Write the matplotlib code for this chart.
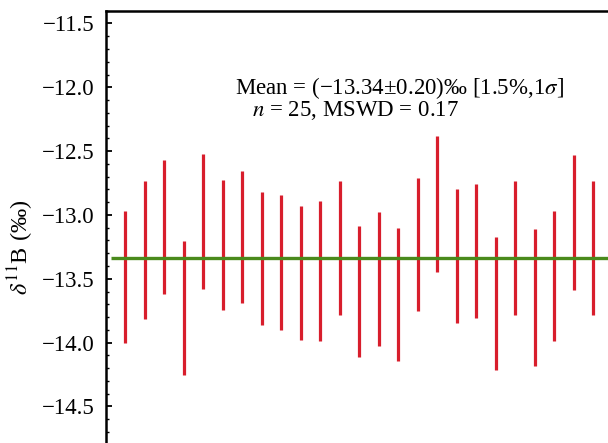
import numpy as np
import matplotlib
matplotlib.use('Agg')
import matplotlib.pyplot as plt
from matplotlib.ticker import MultipleLocator

# delta 11B measurements (per mil) and their error half-widths
values = [-13.486, -13.276, -13.094, -13.731, -13.051, -13.236, -13.175,
          -13.341, -13.373, -13.452, -13.438, -13.259, -13.601, -13.502,
          -13.623, -13.234, -12.914, -13.324, -13.281, -13.695, -13.259,
          -13.648, -13.477, -13.059, -13.258]
errors = [0.520, 0.542, 0.525, 0.525, 0.529, 0.510, 0.518, 0.521, 0.527,
          0.525, 0.550, 0.523, 0.512, 0.523, 0.524, 0.522, 0.531, 0.525,
          0.524, 0.520, 0.523, 0.536, 0.511, 0.529, 0.524]
mean_value = -13.34
yticks = [-14.5, -14.0, -13.5, -13.0, -12.5, -12.0, -11.5]

plt.rcParams['font.family'] = ['Liberation Serif', 'DejaVu Serif']
plt.rcParams['mathtext.fontset'] = 'stix'

fig = plt.figure(figsize=(6.08, 4.43), dpi=100)
W, H = 608, 443
# axes run past the right and bottom edge of the picture
ax = fig.add_axes([105.5 / W, -1.7 / H, 507 / W, 434 / H])

x = np.arange(1, len(values) + 1)
v = np.array(values)
e = np.array(errors)
ax.vlines(x, v - e, v + e, color='#d81e2c', lw=2.3, zorder=2)
ax.hlines(mean_value, 0.27, 26, color='#4a8a1c', lw=2.4, zorder=3)

ax.set_xlim(0, 26)
ax.set_ylim(-14.8, -11.4)
ax.set_yticks(yticks)
ax.set_yticklabels([f'{t:.1f}'.replace('-', '\u2212') for t in yticks])
ax.yaxis.set_minor_locator(MultipleLocator(0.1))
ax.set_xticks([])
ax.tick_params(axis='y', which='major', direction='in', length=4.5, width=1.3,
               labelsize=16.5, pad=8)
ax.tick_params(axis='y', which='minor', direction='in', length=2.5, width=1.0)
for s in ax.spines.values():
    s.set_linewidth(1.8)

ax.set_ylabel(r'$\delta^{11}$B (‰)', fontsize=17.5)
ax.yaxis.set_label_coords(-0.138, 0.455)

fig.text(235 / W, 1 - 88 / H, 'Mean = (\u221213.34\u00b10.20)‰ [1.5%,1$\\sigma$]',
         fontsize=16.5, ha='left', va='center')
fig.text(252 / W, 1 - 111 / H, '$n$ = 25, MSWD = 0.17', fontsize=16.5,
         ha='left', va='center')

fig.savefig('out.png', dpi=100)
